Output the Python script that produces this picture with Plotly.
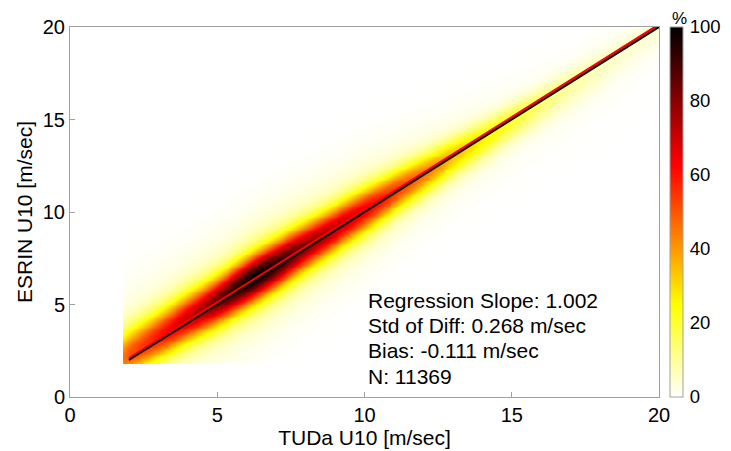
import numpy as np
import plotly.graph_objects as go

# ---- data ----
# density ridge along the diagonal (TUDa U10 positions, m/sec)
col_x = [1.85, 2, 3, 4, 4.5, 5, 5.5, 6, 6.3, 6.8, 7.5, 8, 9, 10, 11, 12, 13, 14, 15, 16, 17, 18, 19, 20]
col_peak = [46, 50, 60, 70, 76, 84, 92, 98, 100, 96, 87, 80, 72, 65, 55, 45, 35, 27, 21, 14, 9, 6, 4.5, 3.5]
col_sig_up = [0.95, 0.95, 0.92, 0.9, 0.88, 0.86, 0.85, 0.85, 0.85, 0.85, 0.85, 0.84, 0.82, 0.8, 0.75, 0.7, 0.65, 0.6, 0.55, 0.55, 0.55, 0.6, 0.6, 0.6]
col_sig_dn = [0.8, 0.8, 0.82, 0.84, 0.85, 0.85, 0.85, 0.85, 0.85, 0.85, 0.85, 0.84, 0.82, 0.8, 0.75, 0.72, 0.7, 0.7, 0.7, 0.75, 0.85, 0.9, 0.8, 0.7]
col_off = [0.3, 0.3, 0.28, 0.25, 0.22, 0.2, 0.2, 0.2, 0.2, 0.18, 0.16, 0.15, 0.12, 0.1, 0.08, 0.05, 0.03, 0.0, 0.0, 0.0, 0.0, 0.0, 0.0, 0.0]
tail_weight = 0.15
tail_scale = 2.2
grid_min = 1.85
grid_max = 20.0

line_x = [2, 20]
reg_slope = 1.002
reg_intercept = 0.09

stats_lines = [
    "Regression Slope: 1.002",
    "Std of Diff: 0.268 m/sec",
    "Bias: -0.111 m/sec",
    "N: 11369",
]
axis_ticks = [0, 5, 10, 15, 20]
cbar_ticks = [0, 20, 40, 60, 80, 100]

# ---- build density field from the read ridge parameters ----
gx = np.round(np.arange(grid_min, grid_max + 1e-9, 0.1), 3)
gy = np.round(np.arange(grid_min, grid_max + 1e-9, 0.1), 3)
X, Y = np.meshgrid(gx, gy)
peak = np.interp(X, col_x, col_peak)
sup = np.interp(X, col_x, col_sig_up)
sdn = np.interp(X, col_x, col_sig_dn)
off = np.interp(X, col_x, col_off)
d = Y - (X + off)
sig = np.where(d > 0, sup, sdn)
Z = peak * ((1 - tail_weight) * np.exp(-0.5 * (d / sig) ** 2)
            + tail_weight * np.exp(-0.5 * (d / (tail_scale * sig)) ** 2))

FONT = "Liberation Sans, Arial, Helvetica, sans-serif"
GREY = "#a0a0a0"

hot_r = [[0.0, "#ffffff"], [0.25, "#ffff00"], [0.625, "#ff0000"], [1.0, "#000000"]]

# page body has an 8px default margin: the figure is sized/placed to compensate
PAGE_OFF = 8
FIG_W, FIG_H = 731 - PAGE_OFF, 451 - PAGE_OFF
PL, PR, PT, PB = 70, 659, 27, 397  # plot-area edges in page pixels
PW, PH = PR - PL, PB - PT

fig = go.Figure()
fig.add_trace(go.Heatmap(
    x=gx, y=gy, z=Z, zmin=0, zmax=100, colorscale=hot_r, zsmooth="best",
    colorbar=dict(
        x=(670 - PL) / PW, xanchor="left", y=0.5, yanchor="middle",
        len=1, lenmode="fraction", thickness=13, thicknessmode="pixels",
        xpad=0, ypad=0, outlinecolor=GREY, outlinewidth=1,
        tickvals=cbar_ticks, ticks="outside", ticklen=3, tickcolor="rgba(0,0,0,0)",
        tickfont=dict(family=FONT, size=18.5, color="black"),
    ),
    hoverinfo="skip",
))
fig.add_trace(go.Scatter(
    x=line_x, y=[reg_slope * v + reg_intercept for v in line_x],
    mode="lines", line=dict(color="#ff0000", width=2.5), showlegend=False,
))
fig.add_trace(go.Scatter(
    x=line_x, y=line_x, mode="lines", line=dict(color="black", width=2), showlegend=False,
))

axis_common = dict(
    range=[0, 20], tickvals=axis_ticks, ticks="inside", ticklen=5, tickcolor=GREY,
    showline=True, linecolor=GREY, linewidth=1, mirror=True,
    showgrid=False, zeroline=False, automargin=False,
    tickfont=dict(family=FONT, size=20, color="black"),
)
fig.update_xaxes(**axis_common, title=dict(text="TUDa U10 [m/sec]", font=dict(family=FONT, size=21, color="black"), standoff=2))
fig.update_yaxes(**axis_common, title=dict(text="ESRIN U10 [m/sec]", font=dict(family=FONT, size=21, color="black"), standoff=4))

line_centers_px = [300, 325, 350, 376]
for txt, cy in zip(stats_lines, line_centers_px):
    fig.add_annotation(text=txt, xref="paper", yref="paper", x=(366 - PL) / PW, y=(PB - cy) / PH,
                       xanchor="left", yanchor="middle", showarrow=False,
                       font=dict(family=FONT, size=21, color="black"))
fig.add_annotation(text="%", xref="paper", yref="paper", x=(679 - PL) / PW, y=(PB - PAGE_OFF) / PH,
                   xanchor="center", yanchor="top", showarrow=False, borderpad=0,
                   font=dict(family=FONT, size=17, color="black"))

fig.update_layout(
    width=FIG_W, height=FIG_H,
    margin=dict(l=PL - PAGE_OFF, r=FIG_W - (PR - PAGE_OFF), t=PT - PAGE_OFF, b=FIG_H - (PB - PAGE_OFF),
                autoexpand=False),
    paper_bgcolor="white", plot_bgcolor="white",
    showlegend=False,
    font=dict(family=FONT, size=20, color="black"),
)
fig.write_html("out.html")
